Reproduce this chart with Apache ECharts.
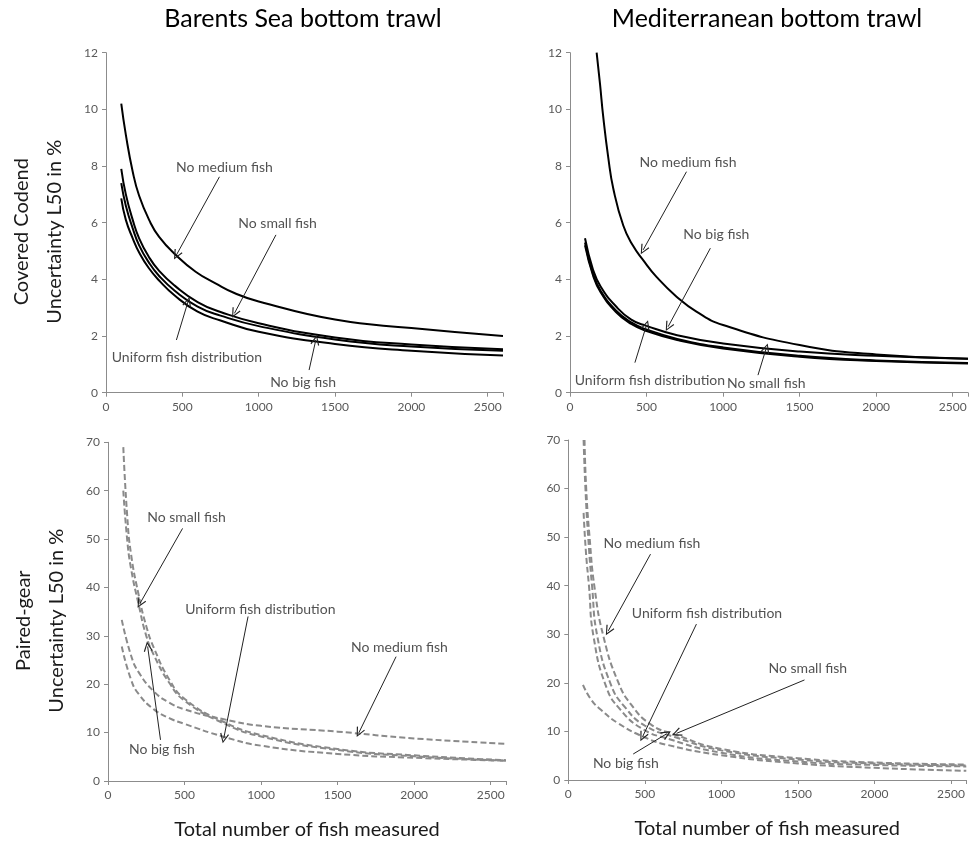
<!DOCTYPE html>
<html>
<head>
<meta charset="utf-8">
<script src="https://cdn.jsdelivr.net/npm/echarts@6/dist/echarts.min.js"></script>
<style>
html,body{margin:0;padding:0;background:#fff;}
#chart{width:977px;height:843px;}
</style>
</head>
<body>
<div id="chart"></div>
<script>
// ---------- Panel titles / axis names ----------
const panelTitles = ['Barents Sea bottom trawl', 'Mediterranean bottom trawl'];
const rowNames = ['Covered Codend', 'Paired-gear'];
const yAxisName = 'Uncertainty L50 in %';
const xAxisName = 'Total number of fish measured';
const xTicks = [0, 500, 1000, 1500, 2000, 2500];

// ---------- Top-left: Barents Sea, covered codend ----------
const tlNoMedium = [[100,10.2],[130,9.1],[175,7.8],[217,6.95],[283,6.09],[348,5.5],[457,4.86],[587,4.27],[717,3.86],[848,3.5],[1000,3.22],[1500,2.58],[2000,2.28],[2600,2.0]];
const tlNoSmall  = [[100,7.9],[130,7.0],[175,6.1],[217,5.45],[280,4.8],[348,4.3],[450,3.78],[600,3.2],[750,2.85],[1000,2.45],[1500,1.95],[2000,1.7],[2600,1.53]];
const tlUniform  = [[100,7.4],[130,6.6],[175,5.8],[217,5.2],[280,4.6],[348,4.12],[450,3.6],[600,3.04],[750,2.72],[1000,2.35],[1500,1.88],[2000,1.63],[2600,1.48]];
const tlNoBig    = [[100,6.86],[130,6.1],[175,5.45],[217,4.95],[280,4.4],[348,3.96],[450,3.43],[600,2.86],[750,2.55],[1000,2.15],[1500,1.72],[2000,1.48],[2600,1.31]];

// ---------- Top-right: Mediterranean, covered codend ----------
const trNoMedium = [[174,12],[196,10.9],[217,9.74],[250,8.3],[283,7.2],[348,5.9],[410,5.2],[478,4.68],[565,4.09],[696,3.39],[826,2.86],[1000,2.39],[1500,1.68],[2000,1.35],[2600,1.2]];
const trNoBig    = [[98,5.45],[150,4.35],[200,3.75],[300,3.05],[400,2.58],[500,2.36],[700,2.03],[1000,1.74],[1500,1.45],[2000,1.3],[2600,1.2]];
const trUniform  = [[98,5.3],[150,4.2],[200,3.6],[300,2.9],[400,2.48],[500,2.23],[700,1.9],[1000,1.6],[1500,1.3],[2000,1.14],[2600,1.05]];
const trNoSmall  = [[98,5.2],[150,4.15],[200,3.55],[300,2.85],[400,2.43],[500,2.18],[700,1.86],[1000,1.56],[1500,1.27],[2000,1.12],[2600,1.03]];

// ---------- Bottom-left: Barents Sea, paired-gear ----------
const blNoSmall  = [[100,69],[125,55],[150,47],[200,38.5],[250,32],[300,27.5],[400,21],[500,17],[750,12.3],[1000,9.5],[1500,6.6],[2000,5.3],[2600,4.3]];
const blNoBig    = [[100,60],[125,50],[150,44],[200,36.5],[250,30],[300,26],[400,20.3],[500,16.6],[750,12],[1000,9.2],[1500,6.4],[2000,5.1],[2600,4.2]];
const blNoMedium = [[90,33.3],[150,26],[200,22.5],[300,18.5],[400,16.2],[500,14.8],[750,12.8],[1000,11.4],[1500,10.2],[2000,8.8],[2600,7.7]];
const blUniform  = [[90,27.8],[150,21],[200,18],[300,14.8],[400,13],[500,11.8],[750,9.2],[1000,7.3],[1500,5.6],[2000,4.8],[2600,4.2]];

// ---------- Bottom-right: Mediterranean, paired-gear ----------
const brNoMedium = [[106,70],[117,60],[139,50],[172,39.5],[230,29.5],[324,20.3],[411,15.5],[541,11.4],[693,9.4],[1000,6.4],[1500,4.5],[2000,3.6],[2600,3.2]];
const brNoSmall  = [[100,70],[112,60],[130,50],[155,40],[190,29.5],[280,19.5],[370,15],[500,11.2],[700,8.8],[1000,6.1],[1500,4.2],[2000,3.4],[2600,3.0]];
const brNoBig    = [[100,55],[115,47],[135,40],[165,29.5],[250,19],[340,14.5],[480,10.6],[650,8.5],[1000,5.6],[1500,3.8],[2000,3.1],[2600,2.8]];
const brUniform  = [[96,19.6],[150,16.5],[215,14.4],[325,11.7],[490,8.9],[650,7.2],[1000,5.1],[1500,3.4],[2000,2.5],[2600,1.9]];

// ---------- Annotations: [labelX, labelY, text, arrowFromX, arrowFromY, arrowToX, arrowToY] ----------
const tlNotes = [
  [776, 7.94, 'No medium fish', 743, 7.62, 461, 4.86],
  [1124, 5.98, 'No small fish', 1113, 5.57, 841, 2.8],
  [530, 1.25, 'Uniform fish distribution', 461, 1.86, 537, 3.21],
  [1291, 0.37, 'No big fish', 1330, 0.8, 1374, 1.86]
];
const trNotes = [
  [771, 8.12, 'No medium fish', 761, 7.8, 478, 5.04],
  [956, 5.6, 'No big fish', 917, 5.1, 641, 2.33],
  [522, 0.42, 'Uniform fish distribution', 424, 1.06, 500, 2.39],
  [1282, 0.31, 'No small fish', 1228, 0.62, 1282, 1.57]
];
const blNotes = [
  [513, 54.5, 'No small fish', 487, 52.2, 209, 36.7],
  [995, 35.5, 'Uniform fish distribution', 915, 34, 756, 8.8],
  [1904, 27.6, 'No medium fish', 1882, 25.7, 1639, 10.0],
  [352, 6.55, 'No big fish', 343, 8.5, 259, 27.8]
];
const brNotes = [
  [546, 48.6, 'No medium fish', 537, 46.5, 261, 30.7],
  [906, 34.3, 'Uniform fish distribution', 837, 32.1, 485, 8.9],
  [1565, 22.9, 'No small fish', 1543, 20.6, 707, 9.6],
  [376, 3.4, 'No big fish', 424, 5.35, 642, 9.5]
];

// ---------- Build option ----------
const FONT = 'Lato, "Open Sans", sans-serif';
const grids = [
  {left: 106, top: 52.7, width: 397, height: 340},
  {left: 570, top: 52.7, width: 398, height: 340},
  {left: 108, top: 442.3, width: 398, height: 338.7},
  {left: 568.3, top: 440, width: 398, height: 340}
];
const yMax = [12, 12, 70, 70];
const yInt = [2, 2, 10, 10];
const OPEN_ARROW = 'path://M5,0 L10,10 L8.8,10.6 L5,2.6 L1.2,10.6 L0,10 Z';

const xAxes = grids.map((g, i) => ({
  type: 'value', gridIndex: i, min: 0, max: 2600, interval: 500,
  axisLine: {show: true, lineStyle: {color: '#8c8c8c', width: 1}},
  axisTick: {show: true, length: 4, lineStyle: {color: '#8c8c8c'}},
  splitLine: {show: false},
  axisLabel: {color: '#595959', fontSize: 12, fontFamily: FONT, margin: 8,
    formatter: v => (xTicks.indexOf(v) >= 0 ? String(v) : '')},
  name: i >= 2 ? xAxisName : '',
  nameLocation: 'middle', nameGap: 39,
  nameTextStyle: {color: '#1a1a1a', fontSize: 20, fontFamily: FONT}
}));
const yAxes = grids.map((g, i) => ({
  type: 'value', gridIndex: i, min: 0, max: yMax[i], interval: yInt[i],
  axisLine: {show: true, lineStyle: {color: '#8c8c8c', width: 1}},
  axisTick: {show: true, length: 4, lineStyle: {color: '#8c8c8c'}},
  splitLine: {show: false},
  axisLabel: {color: '#595959', fontSize: 12, fontFamily: FONT, margin: 8},
  name: (i % 2 === 0) ? (rowNames[i / 2] + '\n' + yAxisName) : '',
  nameLocation: 'middle', nameRotate: 90, nameGap: 35,
  nameTextStyle: {color: '#1a1a1a', fontSize: 20, fontFamily: FONT, lineHeight: 33, padding: [0, 18, 0, 0]}
}));

function curve(name, data, gi, dashed) {
  return {
    type: 'line', name: name, data: data, xAxisIndex: gi, yAxisIndex: gi,
    smooth: 0.5, showSymbol: false, symbol: 'none', silent: true, clip: true,
    lineStyle: dashed ? {color: '#8a8a8a', width: 2, type: [6, 3]} : {color: '#000', width: 2},
    z: 2
  };
}
function notes(list, gi) {
  return {
    type: 'scatter', xAxisIndex: gi, yAxisIndex: gi, silent: true,
    symbolSize: 0,
    data: list.map(n => ({value: [n[0], n[1]], label: {formatter: n[2]}})),
    label: {show: true, position: 'inside', color: '#262626', fontSize: 14, fontFamily: FONT},
    markLine: {
      silent: true, animation: false,
      symbol: ['none', OPEN_ARROW], symbolSize: [9, 10],
      lineStyle: {color: '#222', width: 1, type: 'solid'},
      label: {show: false},
      data: list.map(n => [{coord: [n[3], n[4]]}, {coord: [n[5], n[6]]}])
    },
    z: 5
  };
}

const series = [
  curve('No medium fish', tlNoMedium, 0, false),
  curve('No small fish', tlNoSmall, 0, false),
  curve('Uniform fish distribution', tlUniform, 0, false),
  curve('No big fish', tlNoBig, 0, false),
  notes(tlNotes, 0),
  curve('No medium fish', trNoMedium, 1, false),
  curve('No big fish', trNoBig, 1, false),
  curve('Uniform fish distribution', trUniform, 1, false),
  curve('No small fish', trNoSmall, 1, false),
  notes(trNotes, 1),
  curve('No small fish', blNoSmall, 2, true),
  curve('No big fish', blNoBig, 2, true),
  curve('No medium fish', blNoMedium, 2, true),
  curve('Uniform fish distribution', blUniform, 2, true),
  notes(blNotes, 2),
  curve('No medium fish', brNoMedium, 3, true),
  curve('No small fish', brNoSmall, 3, true),
  curve('No big fish', brNoBig, 3, true),
  curve('Uniform fish distribution', brUniform, 3, true),
  notes(brNotes, 3)
];

const chart = echarts.init(document.getElementById('chart'), null, {renderer: 'canvas'});
chart.setOption({
  backgroundColor: '#fff',
  animation: false,
  grid: grids,
  xAxis: xAxes,
  yAxis: yAxes,
  series: series,
  graphic: [
    {type: 'text', x: 303, y: 19, style: {text: panelTitles[0], fontSize: 25, fontFamily: FONT, fill: '#000', align: 'center', verticalAlign: 'middle'}},
    {type: 'text', x: 767, y: 19, style: {text: panelTitles[1], fontSize: 25, fontFamily: FONT, fill: '#000', align: 'center', verticalAlign: 'middle'}}
  ]
});
</script>
</body>
</html>
